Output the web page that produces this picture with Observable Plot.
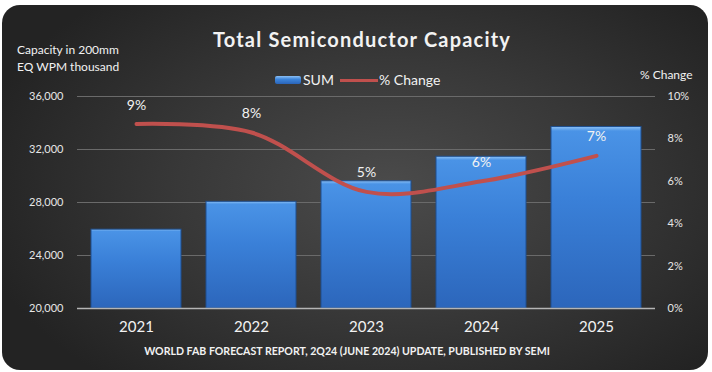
<!DOCTYPE html>
<html><head><meta charset="utf-8">
<script src="https://cdn.jsdelivr.net/npm/d3@7"></script>
<script src="https://cdn.jsdelivr.net/npm/@observablehq/plot@0.6"></script>
<style>
body{margin:0;background:#fff;width:712px;height:372px;overflow:hidden;font-family:Lato,"Open Sans",sans-serif;position:relative}
#card{position:absolute;left:2px;top:5px;width:706px;height:365px;border-radius:18px;background:radial-gradient(ellipse 60% 70% at 55% 50%, #4b4b4b 0%, #383838 50%, #232323 100%);}
#chart{position:absolute;left:0;top:0}
.t{position:absolute;color:#f2f2f2;white-space:nowrap}
</style></head><body>
<div id="card"></div>
<div id="chart"></div>
<div class="t" style="left:0;width:724px;text-align:center;top:27px;font-size:20px;font-weight:bold;letter-spacing:1.2px">Total Semiconductor Capacity</div>
<div class="t" style="left:17px;top:41px;font-size:12px;line-height:17px">Capacity in 200mm<br>EQ WPM thousand</div>
<div style="position:absolute;left:275px;top:76px;width:26px;height:8px;border-radius:2px;background:linear-gradient(#8cc0f5,#3d86dc 40%,#2a64b8)"></div>
<div class="t" style="left:303px;top:71px;font-size:14px">SUM</div>
<div style="position:absolute;left:340px;top:79px;width:38px;height:3px;background:#c0504d"></div>
<div class="t" style="left:379px;top:71px;font-size:14px">% Change</div>
<div class="t" style="left:640px;top:67px;font-size:12px">% Change</div>
<div class="t" style="left:0;width:694px;text-align:center;top:345px;font-size:10.6px;font-weight:bold">WORLD FAB FORECAST REPORT, 2Q24 (JUNE 2024) UPDATE, PUBLISHED BY SEMI</div>
<script>
const years = ["2021", "2022", "2023", "2024", "2025"];
const capacity = [25950, 28050, 29600, 31450, 33700];
const pctChange = [8.7, 8.3, 5.5, 6.0, 7.2];
const pctLabels = ["9%", "8%", "5%", "6%", "7%"];
const capTicks = [20000, 24000, 28000, 32000, 36000];
const pctTicks = [0, 2, 4, 6, 8, 10];

const yMin = 20000, yMax = 36000;
const pctToY = p => yMin + p / 10 * (yMax - yMin);
const data = years.map((y, i) => ({year: y, cap: capacity[i], pct: pctChange[i], label: pctLabels[i], py: pctToY(pctChange[i])}));

const chart = Plot.plot({
  width: 712, height: 372,
  marginLeft: 77, marginRight: 57, marginTop: 96, marginBottom: 64,
  style: {background: "transparent", fontFamily: "Lato, 'Open Sans', sans-serif", color: "#e6e6e6", overflow: "visible"},
  x: {domain: years, paddingInner: 0.22, paddingOuter: 0.11, label: null},
  y: {domain: [yMin, yMax], label: null},
  marks: [
    Plot.ruleY(capTicks.slice(1), {stroke: "#6a6a6a", strokeWidth: 1}),
    Plot.barY(data, {x: "year", y1: yMin, y2: "cap", fill: "url(#barGrad)", stroke: "#1f4f8f", strokeWidth: 1}),
    Plot.ruleY([yMin], {stroke: "#b5b5b5", strokeWidth: 1.5}),
    Plot.line(data, {x: "year", y: "py", stroke: "#c0504d", strokeWidth: 4, curve: "catmull-rom"}),
    Plot.text(data, {x: "year", y: "py", text: "label", dy: -19, fill: "#f2f2f2", fontSize: 14}),
    Plot.axisX({tickSize: 0, tickPadding: 13, fontSize: 15, fill: "#f2f2f2", label: null}),
    Plot.axisY({anchor: "left", ticks: capTicks, tickFormat: d3.format(","), tickSize: 0, tickPadding: 14, fontSize: 11, fill: "#e6e6e6", label: null}),
    Plot.axisY({anchor: "right", ticks: pctTicks.map(pctToY), tickFormat: v => Math.round((v - yMin) / (yMax - yMin) * 10) + "%", tickSize: 0, tickPadding: 12, fontSize: 11, fill: "#e6e6e6", label: null})
  ]
});

const svg = d3.select(chart);
const defs = svg.insert("defs", ":first-child");
const g = defs.append("linearGradient").attr("id", "barGrad").attr("x1", 0).attr("y1", 0).attr("x2", 0).attr("y2", 1);
g.append("stop").attr("offset", "0%").attr("stop-color", "#8ec2f6");
g.append("stop").attr("offset", "2.5%").attr("stop-color", "#4a93e6");
g.append("stop").attr("offset", "40%").attr("stop-color", "#3a80d8");
g.append("stop").attr("offset", "100%").attr("stop-color", "#2c66bb");
document.getElementById("chart").appendChild(chart);
</script>
</body></html>
